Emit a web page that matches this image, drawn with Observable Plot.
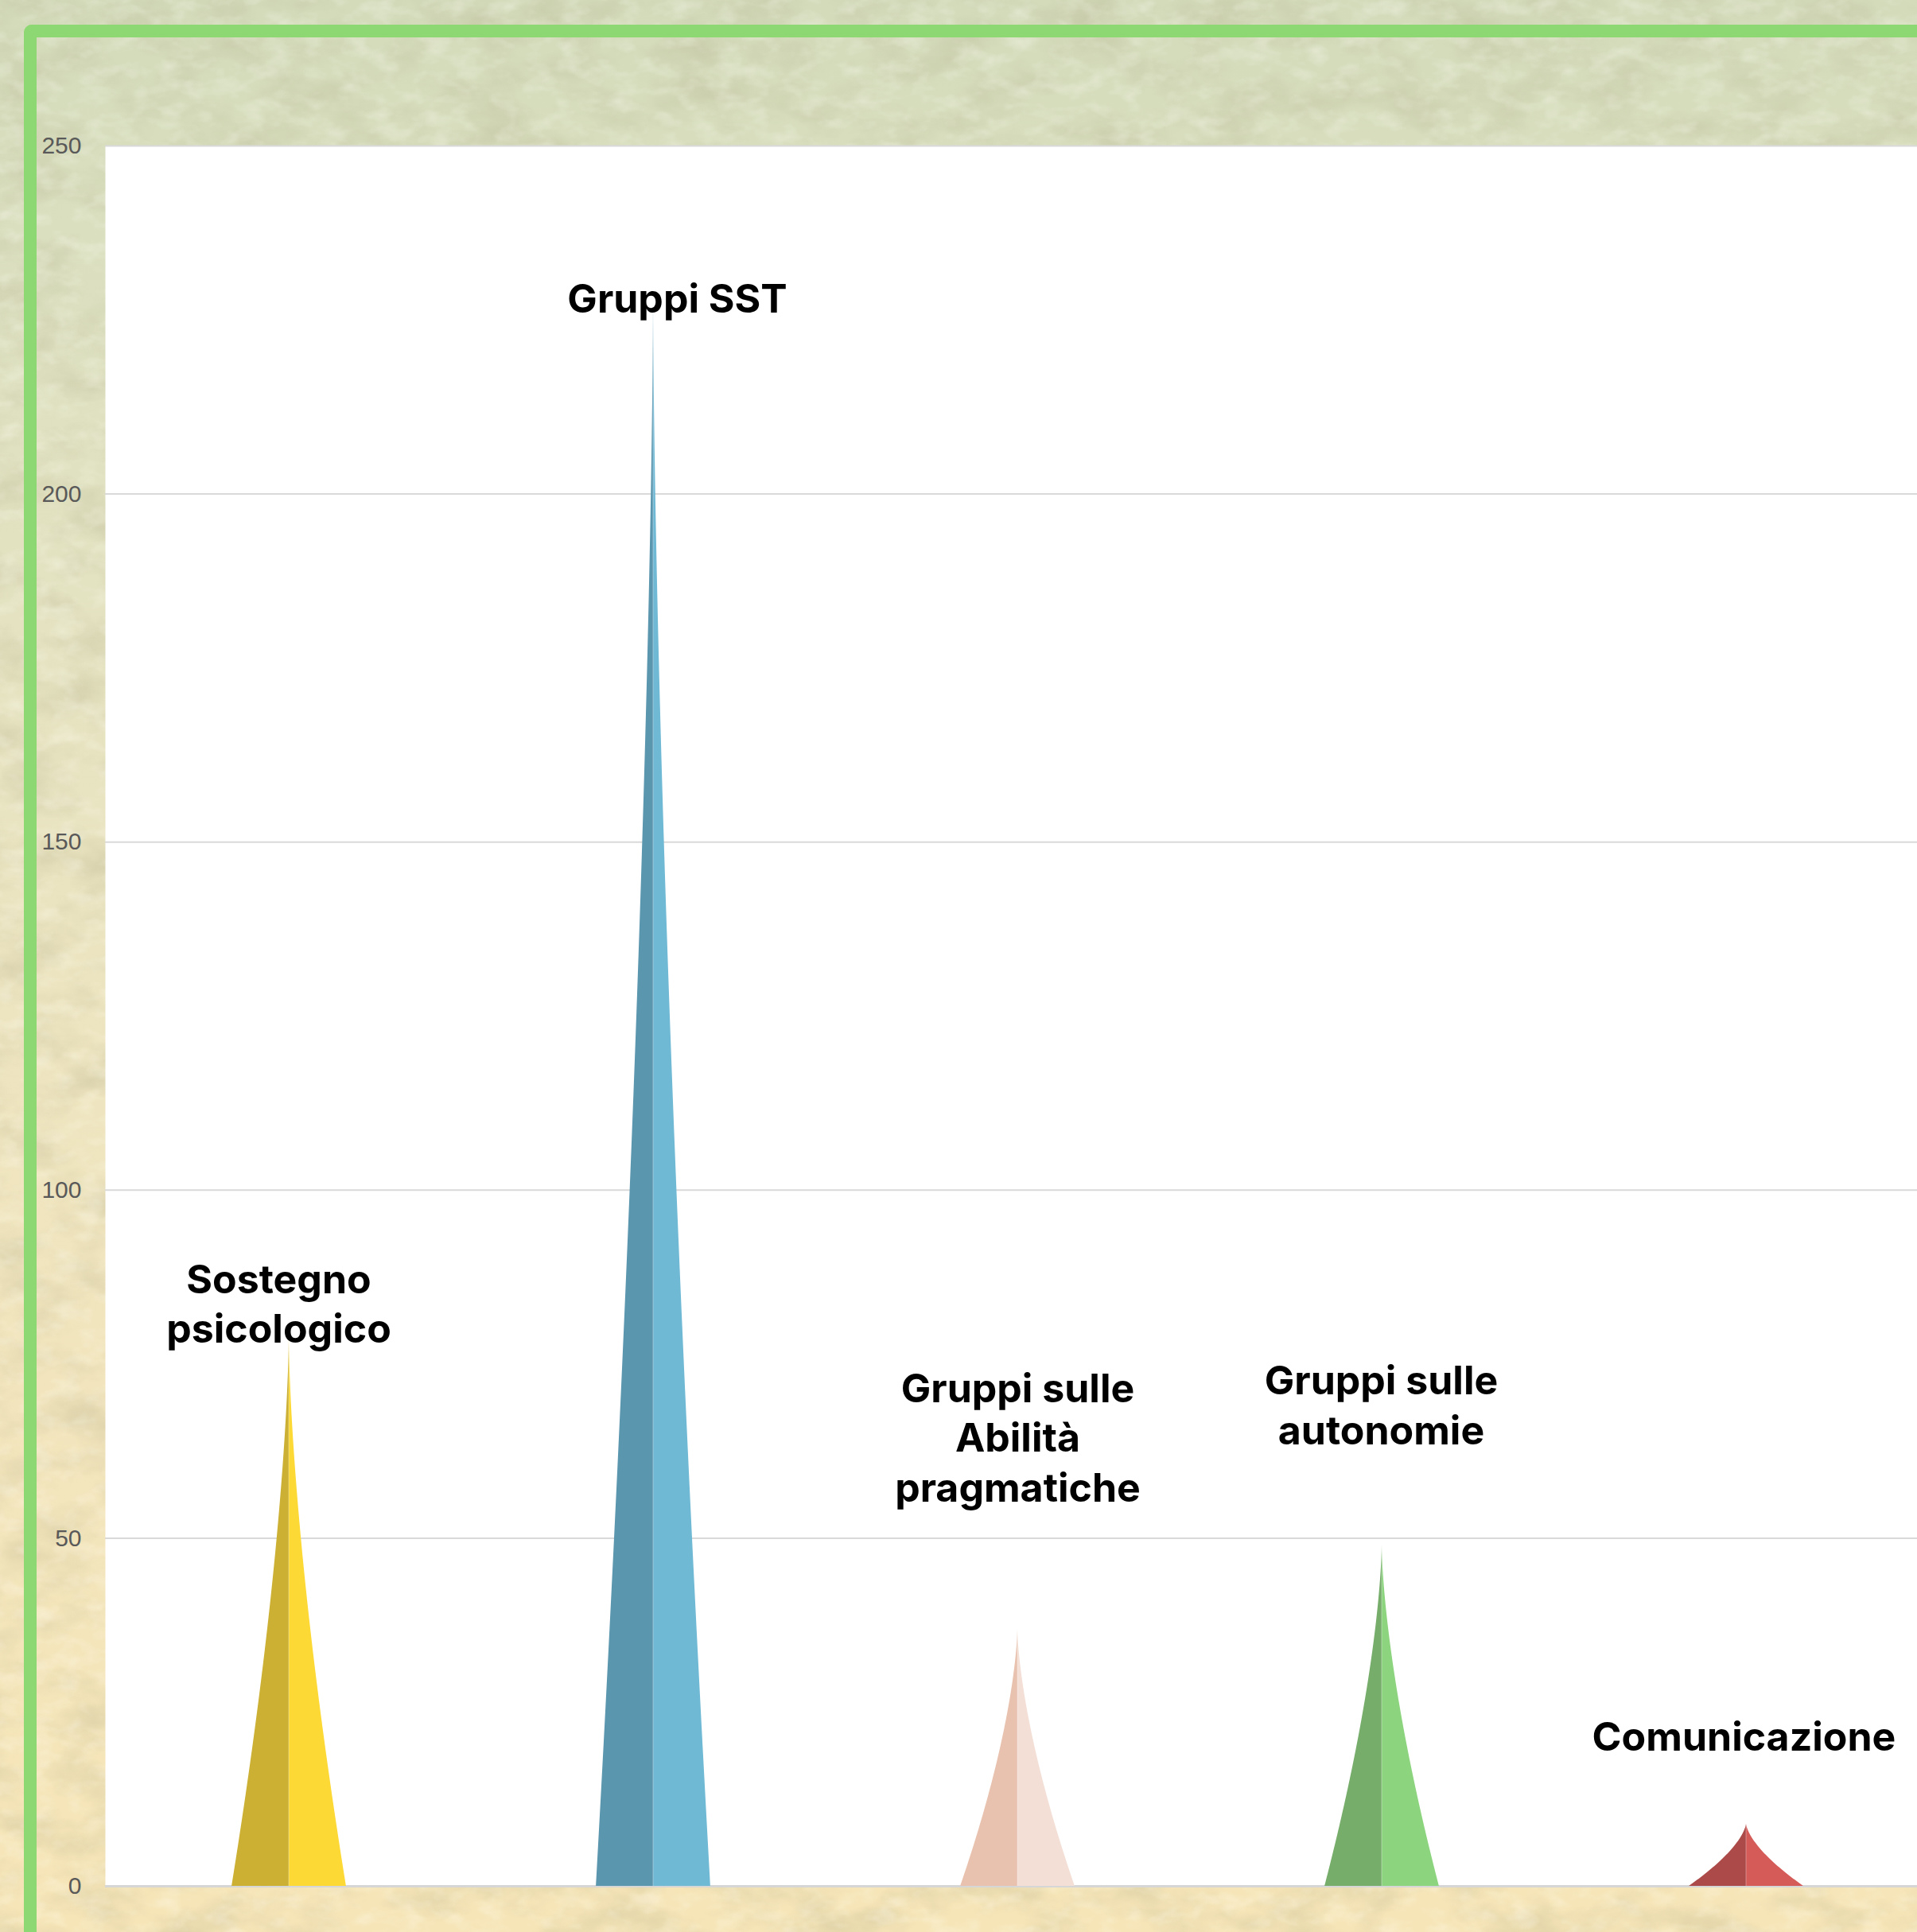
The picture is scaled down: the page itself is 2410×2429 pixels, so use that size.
<!DOCTYPE html>
<html>
<head>
<meta charset="utf-8">
<script src="https://cdn.jsdelivr.net/npm/d3@7"></script>
<script src="https://cdn.jsdelivr.net/npm/@observablehq/plot@0.6"></script>
<style>
  html, body { margin: 0; padding: 0; width: 2410px; height: 2429px; overflow: hidden; }
  body {
    position: relative;
    background: linear-gradient(180deg, #d3dbbb 0%, #dadfbf 12%, #e3e2c1 30%, #ece4c0 50%, #f2e5bd 72%, #f6e5b7 100%);
  }
  #tex {
    position: absolute; left: 0; top: 0; width: 2410px; height: 2429px;
    background-image: url("data:image/svg+xml;utf8,<svg xmlns='http://www.w3.org/2000/svg' width='2410' height='2429'><filter id='n' x='0' y='0' width='100%' height='100%'><feTurbulence type='fractalNoise' baseFrequency='0.012 0.02' numOctaves='4' seed='7'/><feColorMatrix values='0 0 0 0 0.45  0 0 0 0 0.42  0 0 0 0 0.25  1.1 0 0 0 -0.45'/></filter><rect width='100%' height='100%' filter='url(%23n)'/></svg>");
    opacity: 0.6;
  }
  #tex2 {
    position: absolute; left: 0; top: 0; width: 2410px; height: 2429px;
    background-image: url("data:image/svg+xml;utf8,<svg xmlns='http://www.w3.org/2000/svg' width='2410' height='2429'><filter id='m' x='0' y='0' width='100%' height='100%'><feTurbulence type='fractalNoise' baseFrequency='0.03 0.05' numOctaves='3' seed='21'/><feColorMatrix values='0 0 0 0 1  0 0 0 0 1  0 0 0 0 0.92  0 1.2 0 0 -0.55'/></filter><rect width='100%' height='100%' filter='url(%23m)'/></svg>");
    opacity: 0.6;
  }
  #border {
    position: absolute; left: 30px; top: 31px; width: 2600px; height: 2600px;
    border-left: 16px solid #8ed874; border-top: 16px solid #8ed874;
    border-top-left-radius: 10px; box-sizing: border-box;
  }
  #chart { position: absolute; left: 0; top: 0; width: 2425px; }
  #chart svg { max-width: none !important; }
</style>
</head>
<body>
<div id="tex"></div>
<div id="tex2"></div>
<div id="border"></div>
<div id="chart"></div>
<script>
// ---- data ----
const categories = [
  "Sostegno psicologico",
  "Gruppi SST",
  "Gruppi sulle Abilità pragmatiche",
  "Gruppi sulle autonomie",
  "Comunicazione"
];
const labelLines = [
  "Sostegno\npsicologico",
  "Gruppi SST",
  "Gruppi sulle\nAbilità\npragmatiche",
  "Gruppi sulle\nautonomie",
  "Comunicazione"
];
const values = [79, 228, 37, 49, 9];
const yTicks = [0, 50, 100, 150, 200, 250];

// ---- styles ----
const darkColors  = ["#ccb033", "#5b96af", "#e8c2af", "#77ad6b", "#ab4a48"];
const lightColors = ["#fdd935", "#70b9d5", "#f3dfd6", "#8dd47f", "#d55b59"];
const labelDx = [-13, 30, 0, -1, -3];
const labelDy = [8, 17, -160, -127, -92];
const spikeHalfWidth = 0.157; // fraction of band
const spikeCurve = 1.55;

const data = categories.map((c, i) => ({category: c, value: values[i], label: labelLines[i], i}));

function spikes(index, scales) {
  const x = scales.x, y = scales.y;
  const bw = typeof x.bandwidth === "function" ? x.bandwidth() : x.bandwidth;
  const g = d3.create("svg:g");
  const n = 80;
  data.forEach((d) => {
    const cx = x(d.category) + bw / 2;
    const y0 = y(0), y1 = y(d.value);
    const W = bw * spikeHalfWidth;
    let left = `M${cx},${y0}`, right = `M${cx},${y0}`;
    for (let k = 0; k <= n; k++) {
      const t = k / n;
      const w = W * Math.pow(1 - t, spikeCurve);
      const yy = y0 + (y1 - y0) * t;
      left += `L${cx - w},${yy}`;
      right += `L${cx + w},${yy}`;
    }
    left += "Z"; right += "Z";
    g.append("path").attr("d", left).attr("fill", darkColors[d.i]);
    g.append("path").attr("d", right).attr("fill", lightColors[d.i]);
    g.append("line").attr("x1", cx).attr("x2", cx).attr("y1", y0).attr("y2", y1)
      .attr("stroke", "rgba(255,255,255,0.22)").attr("stroke-width", 1.5);
  });
  return g.node();
}

const labelMarks = data.map((d) => Plot.text([d], {
  x: "category", y: "value", text: "label",
  dx: labelDx[d.i], dy: labelDy[d.i],
  lineAnchor: "bottom", lineHeight: 1.245,
  fontSize: 50, fontWeight: 700, fontFamily: "Inter, Lato, sans-serif",
  fill: "#000000"
}));

const chart = Plot.plot({
  width: 2425,
  height: 2429,
  marginLeft: 132,
  marginTop: 183,
  marginBottom: 58,
  marginRight: 0,
  style: {background: "transparent", overflow: "visible", maxWidth: "none"},
  x: {type: "band", domain: categories, padding: 0, axis: null},
  y: {domain: [0, 250], axis: null},
  marks: [
    Plot.frame({fill: "#ffffff", stroke: null}),
    Plot.ruleY(yTicks.filter(v => v > 0), {stroke: "#d9d9d9", strokeWidth: 2}),
    Plot.ruleY([0], {stroke: "#d6d6d6", strokeWidth: 3}),
    spikes,
    Plot.axisY(yTicks, {
      tickSize: 0, tickPadding: 30, label: null,
      fontSize: 30, fontFamily: "Liberation Sans, Arial, sans-serif",
      fill: "#595959"
    }),
    ...labelMarks
  ]
});
chart.style.maxWidth = "none";
document.getElementById("chart").appendChild(chart);
</script>
</body>
</html>
